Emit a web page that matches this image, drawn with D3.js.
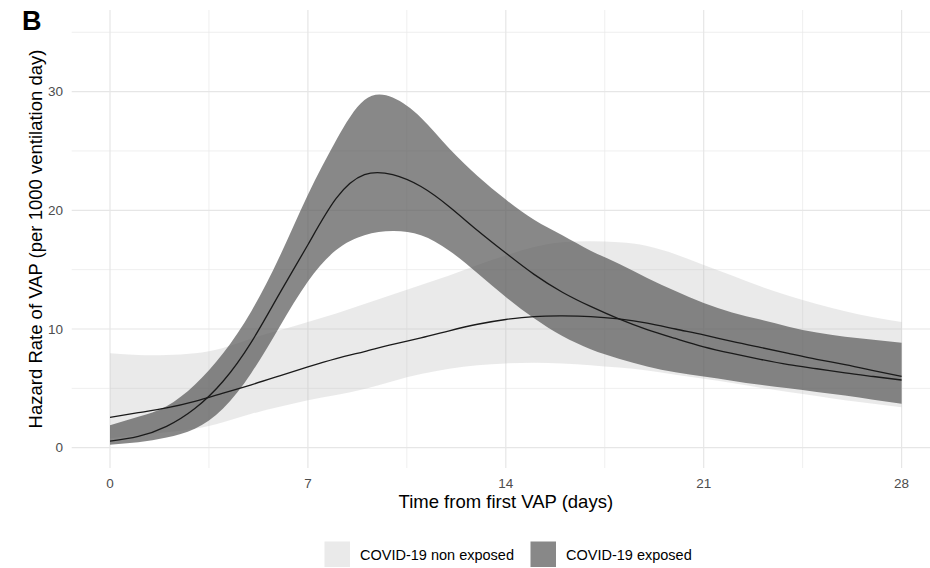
<!DOCTYPE html>
<html><head><meta charset="utf-8">
<script src="https://cdn.jsdelivr.net/npm/d3@7"></script>
<style>html,body{margin:0;padding:0;background:#fff;}svg{display:block;font-family:"Liberation Sans",Arial,sans-serif;}</style>
</head><body>
<svg id="chart" width="930" height="568"></svg>
<script>
const days = [0,1,2,3,4,5,6,7,8,9,10,11,12,13,14,15,16,17,18,19,20,21,22,23,24,25,26,27,28];
// COVID-19 exposed
const expMean  = [0.55,0.95,1.8,3.3,5.6,8.9,13.0,17.1,21.0,23.0,23.0,22.0,20.3,18.3,16.4,14.6,13.1,11.9,10.85,9.95,9.2,8.5,7.95,7.45,7.0,6.65,6.3,6.0,5.7];
const expUpper = [1.9,2.6,3.5,5.3,7.95,11.5,16.1,21.3,25.9,29.3,29.5,27.8,25.2,22.9,20.9,19.2,17.9,16.6,15.5,14.3,13.2,12.2,11.4,10.8,10.2,9.7,9.35,9.1,8.85];
const expLower = [0.25,0.45,0.85,1.6,3.3,6.3,10.2,14.0,16.65,17.9,18.25,17.9,16.6,14.7,12.7,10.9,9.4,8.3,7.5,6.85,6.35,6.0,5.65,5.3,5.0,4.7,4.4,4.05,3.7];
// COVID-19 non exposed
const nonMean  = [2.55,2.95,3.35,3.9,4.6,5.3,6.05,6.8,7.5,8.1,8.7,9.25,9.85,10.4,10.8,11.05,11.1,11.05,10.85,10.5,10.0,9.5,8.95,8.45,7.95,7.45,7.0,6.5,6.0];
const nonUpper = [7.95,7.8,7.8,7.95,8.4,9.2,9.9,10.6,11.3,12.1,12.9,13.7,14.5,15.4,16.2,16.9,17.3,17.4,17.3,17.0,16.3,15.4,14.5,13.6,12.8,12.1,11.5,11.0,10.6];
const nonLower = [0.8,1.05,1.3,1.6,2.15,2.85,3.45,4.0,4.45,4.95,5.6,6.2,6.65,6.95,7.1,7.15,7.1,6.95,6.75,6.5,6.15,5.8,5.45,5.05,4.7,4.35,4.0,3.7,3.4];

const xMajor = [0,7,14,21,28];
const xMinor = [3.5,10.5,17.5,24.5];
const yMajor = [0,10,20,30];
const yMinor = [5,15,25,35];
const legendLabels = ["COVID-19 non exposed","COVID-19 exposed"];

const svg = d3.select("#chart");
const x = d3.scaleLinear().domain([0,28]).range([110,901.6]);
const y = d3.scaleLinear().domain([0,30]).range([447.7,91.6]);
const panel = {left:71.7, right:945, top:10, bottom:468};

// gridlines
const g = svg.append("g");
g.selectAll(".vmin").data(xMinor).join("line")
  .attr("x1",d=>x(d)).attr("x2",d=>x(d)).attr("y1",panel.top).attr("y2",panel.bottom)
  .attr("stroke","#ebebeb").attr("stroke-width",0.8);
g.selectAll(".hmin").data(yMinor).join("line")
  .attr("y1",d=>y(d)).attr("y2",d=>y(d)).attr("x1",panel.left).attr("x2",panel.right)
  .attr("stroke","#ebebeb").attr("stroke-width",0.8);
g.selectAll(".vmaj").data(xMajor).join("line")
  .attr("x1",d=>x(d)).attr("x2",d=>x(d)).attr("y1",panel.top).attr("y2",panel.bottom)
  .attr("stroke","#e6e6e6").attr("stroke-width",1.2);
g.selectAll(".hmaj").data(yMajor).join("line")
  .attr("y1",d=>y(d)).attr("y2",d=>y(d)).attr("x1",panel.left).attr("x2",panel.right)
  .attr("stroke","#e6e6e6").attr("stroke-width",1.2);

const curve = d3.curveNatural;
const area = (lo,hi) => d3.area().x((d,i)=>x(days[i])).y0((d,i)=>y(lo[i])).y1((d,i)=>y(hi[i])).curve(curve)(days);
const line = (m) => d3.line().x((d,i)=>x(days[i])).y((d,i)=>y(m[i])).curve(curve)(days);

const lightFill = "#bdbdbd", lightOp = 0.32;
const darkFill = "#555555", darkOp = 0.7;

svg.append("path").attr("d",area(nonLower,nonUpper)).attr("fill",lightFill).attr("fill-opacity",lightOp);
svg.append("path").attr("d",area(expLower,expUpper)).attr("fill",darkFill).attr("fill-opacity",darkOp);
svg.append("path").attr("d",line(nonMean)).attr("fill","none").attr("stroke","#1a1a1a").attr("stroke-width",1.3);
svg.append("path").attr("d",line(expMean)).attr("fill","none").attr("stroke","#1a1a1a").attr("stroke-width",1.3);

// tick labels
svg.selectAll(".xt").data(xMajor).join("text")
  .attr("x",d=>x(d)).attr("y",488).attr("text-anchor","middle")
  .attr("font-size",13.5).attr("fill","#4d4d4d").text(d=>d);
svg.selectAll(".yt").data(yMajor).join("text")
  .attr("x",63).attr("y",d=>y(d)+4.7).attr("text-anchor","end")
  .attr("font-size",13.5).attr("fill","#4d4d4d").text(d=>d);

// axis titles
svg.append("text").attr("x",x(14)).attr("y",508).attr("text-anchor","middle")
  .attr("font-size",18.5).attr("fill","#000").text("Time from first VAP (days)");
svg.append("text").attr("transform",`translate(42,${(panel.top+panel.bottom)/2}) rotate(-90)`)
  .attr("text-anchor","middle").attr("font-size",18.5).attr("fill","#000")
  .text("Hazard Rate of VAP (per 1000 ventilation day)");

// panel tag
svg.append("text").attr("x",22).attr("y",30).attr("font-size",27).attr("font-weight","bold").attr("fill","#000").text("B");

// legend
const legX = [324.5, 530.5];
const lg = svg.append("g");
lg.selectAll("rect").data(legendLabels).join("rect")
  .attr("x",(d,i)=>legX[i]).attr("y",541.5).attr("width",25.5).attr("height",25.5)
  .attr("fill",(d,i)=>i===0?lightFill:darkFill).attr("fill-opacity",(d,i)=>i===0?lightOp:darkOp);
lg.selectAll("text").data(legendLabels).join("text")
  .attr("x",(d,i)=>legX[i]+35.5).attr("y",560).attr("font-size",14.5).attr("fill","#000").text(d=>d);
</script>
</body></html>
